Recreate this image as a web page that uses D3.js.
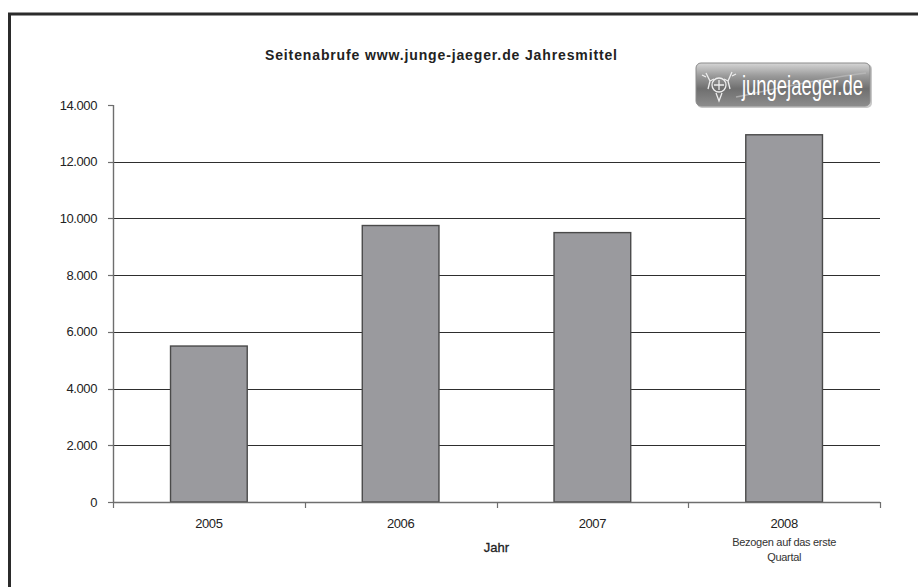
<!DOCTYPE html>
<html>
<head>
<meta charset="utf-8">
<script src="https://cdn.jsdelivr.net/npm/d3@7"></script>
<style>
  html, body { margin: 0; padding: 0; background: #fff; }
  svg { display: block; }
  text { font-family: "Liberation Sans", Arial, sans-serif; }
</style>
</head>
<body>
<svg id="chart" width="918" height="587"></svg>
<script>
// Page views per year (annual mean)
const years = ["2005", "2006", "2007", "2008"];
const views = [5500, 9750, 9500, 12950];
const yTicks = [0, 2000, 4000, 6000, 8000, 10000, 12000, 14000];
const title = "Seitenabrufe www.junge-jaeger.de Jahresmittel";
const xTitle = "Jahr";
const note2008 = ["Bezogen auf das erste", "Quartal"];

const svg = d3.select("#chart");
const W = 918, H = 587;
const plot = { left: 113, right: 880, top: 105, bottom: 502 };

const de = d3.formatLocale({ decimal: ",", thousands: ".", grouping: [3], currency: ["", " €"] });
const fmt = de.format(",");

// Outer frame (top and left edges)
svg.append("path")
  .attr("d", `M9.5,${H} V14 H${W}`)
  .attr("fill", "none").attr("stroke", "#2b2b2b").attr("stroke-width", 3);

const x = d3.scaleBand().domain(years)
  .range([plot.left, plot.right]).paddingInner(0.6).paddingOuter(0.3);
const y = d3.scaleLinear().domain([0, 14000]).range([plot.bottom, plot.top]);

// Horizontal gridlines
svg.append("g").selectAll("line").data(yTicks.filter(d => d > 0 && d < 14000)).join("line")
  .attr("x1", plot.left).attr("x2", plot.right)
  .attr("y1", d => Math.round(y(d)) + 0.5).attr("y2", d => Math.round(y(d)) + 0.5)
  .attr("stroke", "#2e2e2e").attr("stroke-width", 1.1);

// Bars
svg.append("g").selectAll("rect").data(years).join("rect")
  .attr("x", d => x(d))
  .attr("width", x.bandwidth())
  .attr("y", (d, i) => y(views[i]))
  .attr("height", (d, i) => y(0) - y(views[i]))
  .attr("fill", "#9a9a9e").attr("stroke", "#4a4a4a").attr("stroke-width", 1.4);

// Y axis
const yAxis = svg.append("g");
yAxis.append("line")
  .attr("x1", plot.left + 0.5).attr("x2", plot.left + 0.5)
  .attr("y1", y(14000)).attr("y2", y(0))
  .attr("stroke", "#6e6e6e").attr("stroke-width", 1.4);
yAxis.selectAll("line.tick").data(yTicks).join("line").attr("class", "tick")
  .attr("x1", plot.left - 5).attr("x2", plot.left)
  .attr("y1", d => Math.round(y(d)) + 0.5).attr("y2", d => Math.round(y(d)) + 0.5)
  .attr("stroke", "#6e6e6e").attr("stroke-width", 1.2);
yAxis.selectAll("text").data(yTicks).join("text")
  .attr("x", plot.left - 16).attr("y", d => y(d) + 4.5)
  .attr("text-anchor", "end").attr("font-size", 13).attr("letter-spacing", -0.4)
  .attr("fill", "#222").text(d => fmt(d));

// X axis
const xAxis = svg.append("g");
xAxis.append("line")
  .attr("x1", plot.left).attr("x2", plot.right)
  .attr("y1", y(0) + 0.5).attr("y2", y(0) + 0.5)
  .attr("stroke", "#6e6e6e").attr("stroke-width", 1.4);
const bounds = years.map(d => x(d) - x.step() * x.paddingInner() / 2)
  .concat([plot.right]);
xAxis.selectAll("line.tick").data(bounds).join("line").attr("class", "tick")
  .attr("x1", d => Math.round(d) + 0.5).attr("x2", d => Math.round(d) + 0.5)
  .attr("y1", y(0)).attr("y2", y(0) + 6)
  .attr("stroke", "#6e6e6e").attr("stroke-width", 1.2);
xAxis.selectAll("text.cat").data(years).join("text").attr("class", "cat")
  .attr("x", d => x(d) + x.bandwidth() / 2).attr("y", 528)
  .attr("text-anchor", "middle").attr("font-size", 13).attr("letter-spacing", -0.4)
  .attr("fill", "#222").text(d => d);
xAxis.selectAll("text.note").data(note2008).join("text").attr("class", "note")
  .attr("x", x("2008") + x.bandwidth() / 2).attr("y", (d, i) => 546 + i * 15)
  .attr("text-anchor", "middle").attr("font-size", 11).attr("letter-spacing", -0.3)
  .attr("fill", "#333").text(d => d);
svg.append("text")
  .attr("x", (plot.left + plot.right) / 2).attr("y", 552)
  .attr("text-anchor", "middle").attr("font-size", 13)
  .attr("fill", "#222").attr("stroke", "#222").attr("stroke-width", 0.3).text(xTitle);

// Title
svg.append("text")
  .attr("x", 441).attr("y", 60)
  .attr("text-anchor", "middle").attr("font-size", 14).attr("font-weight", "bold")
  .attr("textLength", 352).attr("lengthAdjust", "spacing")
  .attr("fill", "#222").text(title);

// Site badge
const defs = svg.append("defs");
const grad = defs.append("linearGradient").attr("id", "badge").attr("x1", 0).attr("y1", 0).attr("x2", 0).attr("y2", 1);
grad.append("stop").attr("offset", "0%").attr("stop-color", "#d6d6d6");
grad.append("stop").attr("offset", "30%").attr("stop-color", "#9a9a9a");
grad.append("stop").attr("offset", "60%").attr("stop-color", "#6f6f6f");
grad.append("stop").attr("offset", "100%").attr("stop-color", "#8c8c8c");
const badge = svg.append("g").attr("transform", "translate(696,63)");
badge.append("rect").attr("x", 1).attr("y", 1).attr("width", 175).attr("height", 44).attr("rx", 5)
  .attr("fill", "#c8c8c8");
badge.append("rect").attr("width", 174).attr("height", 43).attr("rx", 5)
  .attr("fill", "url(#badge)").attr("stroke", "#8a8a8a").attr("stroke-width", 1);
badge.append("path")
  .attr("d", "M40,34 C80,26 120,16 170,10")
  .attr("fill", "none").attr("stroke", "#bdbdbd").attr("stroke-width", 1.5).attr("opacity", 0.7);
// emblem
const em = badge.append("g").attr("fill", "none").attr("stroke", "#eeeeee").attr("stroke-width", 1.3);
em.append("path").attr("d", "M10,10 L14,18 L12,26 M10,14 L6,12 M14,18 L18,16");
em.append("path").attr("d", "M36,9 L32,18 L34,26 M36,13 L40,11 M32,18 L28,16");
em.append("circle").attr("cx", 23).attr("cy", 22).attr("r", 7);
em.append("path").attr("d", "M18,22 L28,22 M23,17 L23,27 M20,30 L23,38 L26,30");
badge.append("text")
  .attr("x", 46).attr("y", 32)
  .attr("font-family", "'Liberation Sans Narrow', 'DejaVu Sans Condensed', sans-serif")
  .attr("font-size", 27).attr("fill", "#ffffff")
  .attr("textLength", 121).attr("lengthAdjust", "spacingAndGlyphs")
  .text("jungejaeger.de");
</script>
</body>
</html>
